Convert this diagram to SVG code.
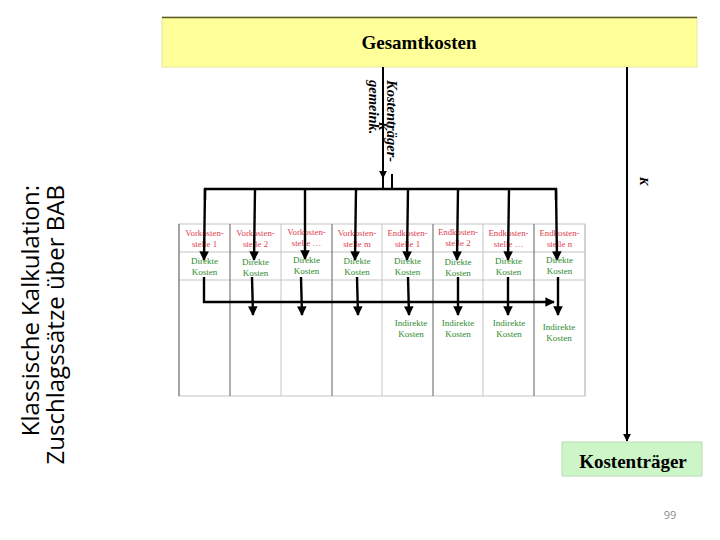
<svg xmlns="http://www.w3.org/2000/svg" width="720" height="540" viewBox="0 0 720 540">
<style>
.title{font-family:"Open Sans","DejaVu Sans",sans-serif;font-size:24px;fill:#000}
.big{font-family:"Liberation Serif","Times New Roman",serif;font-weight:bold;font-size:19px;fill:#000}
.hdr{font-family:"Liberation Serif","Times New Roman",serif;font-size:8.8px;fill:#e0404e;text-anchor:middle}
.grn{font-family:"Liberation Serif","Times New Roman",serif;font-size:9px;fill:#2e8b2e;text-anchor:middle}
.lbl{font-family:"Liberation Serif","Times New Roman",serif;font-style:italic;font-weight:bold;font-size:14.5px;fill:#000}
.kk{font-family:"Liberation Serif","Times New Roman",serif;font-style:italic;font-weight:bold;font-size:13px;fill:#000;text-anchor:middle}
.lg{stroke:#c4c4c4;stroke-width:1;fill:none}
.ld{stroke:#7a7a7a;stroke-width:1.2;fill:none}
.conn{stroke:#000;stroke-width:2.4;fill:none}
.thin{stroke:#000;stroke-width:2;fill:none}
</style>
<defs>
<marker id="ah" viewBox="0 0 10 10" refX="9" refY="5" markerWidth="4" markerHeight="4" orient="auto" markerUnits="strokeWidth">
<path d="M0,0 L10,5 L0,10 Z" fill="#000"/>
</marker>
</defs>
<rect width="720" height="540" fill="#fff"/>

<g id="title">
<text class="title" transform="translate(39,185) rotate(-90)" text-anchor="end">Klassische Kalkulation:</text>
<text class="title" transform="translate(64,185) rotate(-90)" text-anchor="end">Zuschlagssätze über BAB</text>
</g>

<g id="gesamtkosten">
<rect x="162" y="17" width="535" height="50" fill="#ffff99" stroke="#e6e6a0" stroke-width="1"/>
<line x1="162" y1="17.5" x2="697" y2="17.5" stroke="#5a5a30" stroke-width="1.5"/>
<text class="big" x="419" y="49" text-anchor="middle">Gesamtkosten</text>
</g>

<g id="bab">
<rect x="179" y="224" width="406" height="172" fill="#fff" class="lg"/>
<line class="lg" x1="179" y1="252" x2="585" y2="252"/>
<line class="lg" x1="179" y1="280" x2="585" y2="280"/>
<line class="ld" x1="179" y1="224" x2="179" y2="396"/>
<line class="ld" x1="230" y1="224" x2="230" y2="396"/>
<line class="lg" x1="281" y1="224" x2="281" y2="396"/>
<line class="ld" x1="332" y1="224" x2="332" y2="396"/>
<line class="lg" x1="382" y1="224" x2="382" y2="396"/>
<line class="ld" x1="433" y1="224" x2="433" y2="396"/>
<line class="lg" x1="483" y1="224" x2="483" y2="396"/>
<line class="ld" x1="534" y1="224" x2="534" y2="396"/>
<line class="lg" x1="585" y1="224" x2="585" y2="396"/>
</g>

<g id="headers">
<text class="hdr" x="204.5" y="236">Vorkosten-</text><text class="hdr" x="204.5" y="247">stelle 1</text>
<text class="hdr" x="255.5" y="236">Vorkosten-</text><text class="hdr" x="255.5" y="247">stelle 2</text>
<text class="hdr" x="306.5" y="235">Vorkosten-</text><text class="hdr" x="306.5" y="246">stelle …</text>
<text class="hdr" x="357" y="236">Vorkosten-</text><text class="hdr" x="357" y="247">stelle m</text>
<text class="hdr" x="407.5" y="236">Endkosten-</text><text class="hdr" x="407.5" y="247">stelle 1</text>
<text class="hdr" x="458" y="235">Endkosten-</text><text class="hdr" x="458" y="246">stelle 2</text>
<text class="hdr" x="508.5" y="236">Endkosten-</text><text class="hdr" x="508.5" y="247">stelle …</text>
<text class="hdr" x="559.5" y="236">Endkosten-</text><text class="hdr" x="559.5" y="247">stelle n</text>
</g>

<g id="connectors">
<line class="thin" x1="383" y1="67" x2="383" y2="178" marker-end="url(#ah)"/>
<line class="thin" x1="383" y1="176" x2="383" y2="189"/>
<line class="thin" x1="392" y1="174" x2="392" y2="189"/>
<line class="thin" x1="627" y1="67" x2="627" y2="441" marker-end="url(#ah)"/>
<polyline class="conn" points="205,200 205,189 556,189 556,200"/>
<line class="conn" x1="205" y1="189" x2="204" y2="260" marker-end="url(#ah)"/>
<line class="conn" x1="255" y1="189" x2="254" y2="260" marker-end="url(#ah)"/>
<line class="conn" x1="305" y1="189" x2="305" y2="259" marker-end="url(#ah)"/>
<line class="conn" x1="356" y1="189" x2="355" y2="260" marker-end="url(#ah)"/>
<line class="conn" x1="408" y1="189" x2="407" y2="260" marker-end="url(#ah)"/>
<line class="conn" x1="458" y1="189" x2="457" y2="260" marker-end="url(#ah)"/>
<line class="conn" x1="509" y1="189" x2="508" y2="260" marker-end="url(#ah)"/>
<line class="conn" x1="556" y1="189" x2="557" y2="260" marker-end="url(#ah)"/>
<polyline class="conn" points="204,277 204,302 554,302" marker-end="url(#ah)"/>
<line class="conn" x1="252" y1="277" x2="253" y2="315" marker-end="url(#ah)"/>
<line class="conn" x1="301" y1="277" x2="302" y2="315" marker-end="url(#ah)"/>
<line class="conn" x1="357" y1="277" x2="358" y2="315" marker-end="url(#ah)"/>
<line class="conn" x1="408" y1="277" x2="409" y2="315" marker-end="url(#ah)"/>
<line class="conn" x1="458" y1="277" x2="458" y2="315" marker-end="url(#ah)"/>
<line class="conn" x1="508" y1="277" x2="508" y2="315" marker-end="url(#ah)"/>
<line class="conn" x1="558" y1="277" x2="558" y2="315" marker-end="url(#ah)"/>
</g>

<g id="direct">
<text class="grn" x="204.5" y="264">Direkte</text><text class="grn" x="204.5" y="275">Kosten</text>
<text class="grn" x="255.5" y="265">Direkte</text><text class="grn" x="255.5" y="276">Kosten</text>
<text class="grn" x="306.5" y="263">Direkte</text><text class="grn" x="306.5" y="274">Kosten</text>
<text class="grn" x="357" y="264">Direkte</text><text class="grn" x="357" y="275">Kosten</text>
<text class="grn" x="407.5" y="264">Direkte</text><text class="grn" x="407.5" y="275">Kosten</text>
<text class="grn" x="458" y="265">Direkte</text><text class="grn" x="458" y="276">Kosten</text>
<text class="grn" x="508.5" y="264">Direkte</text><text class="grn" x="508.5" y="275">Kosten</text>
<text class="grn" x="559.5" y="263">Direkte</text><text class="grn" x="559.5" y="274">Kosten</text>
</g>

<g id="indirect">
<text class="grn" x="411" y="326">Indirekte</text><text class="grn" x="411" y="337">Kosten</text>
<text class="grn" x="458" y="326">Indirekte</text><text class="grn" x="458" y="337">Kosten</text>
<text class="grn" x="509" y="326">Indirekte</text><text class="grn" x="509" y="337">Kosten</text>
<text class="grn" x="559" y="330">Indirekte</text><text class="grn" x="559" y="341">Kosten</text>
</g>

<g id="labels">
<text class="lbl" transform="translate(387,80) rotate(90)">Kostenträger-</text>
<text class="lbl" transform="translate(369,80) rotate(90)">gemeink.</text>
<text class="kk" transform="translate(379,126) rotate(90)">K</text>
<text class="kk" transform="translate(640,181) rotate(90)">K</text>
</g>

<g id="kostentraeger">
<rect x="562" y="442" width="140" height="34" fill="#ccf5c8" stroke="#b8dcb4" stroke-width="1"/>
<text class="big" x="633" y="468" text-anchor="middle">Kostenträger</text>
</g>

<text x="670" y="519" font-family="'Open Sans','DejaVu Sans',sans-serif" font-size="11" fill="#8a8a8a" text-anchor="middle">99</text>
</svg>
